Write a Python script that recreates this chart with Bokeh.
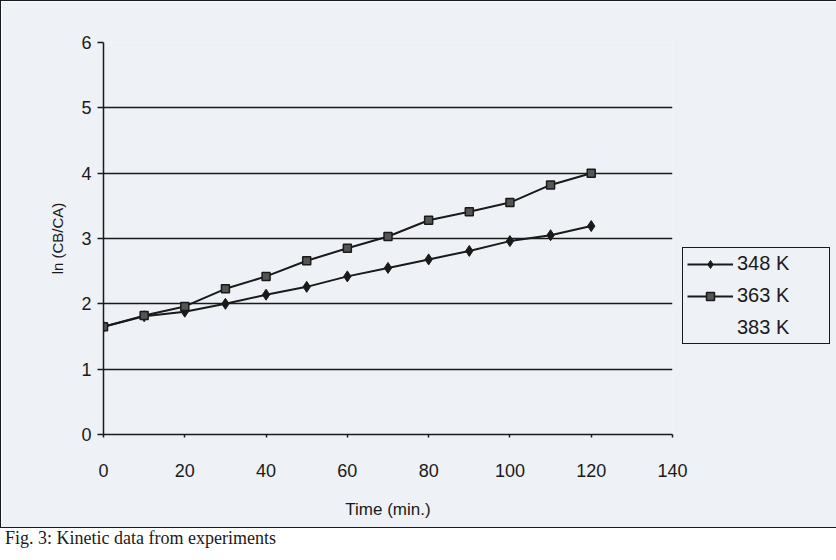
from bokeh.plotting import figure
from bokeh.models import Legend, LegendItem, Div, FixedTicker, Range1d
from bokeh.layouts import column
from bokeh.embed import file_html
from bokeh.resources import INLINE

# ---- data ----
time_min = [0, 10, 20, 30, 40, 50, 60, 70, 80, 90, 100, 110, 120]
ln_348K = [1.65, 1.81, 1.88, 2.00, 2.14, 2.26, 2.42, 2.55, 2.68, 2.81, 2.96, 3.05, 3.19]
ln_363K = [1.65, 1.82, 1.96, 2.23, 2.42, 2.66, 2.85, 3.03, 3.28, 3.41, 3.55, 3.82, 4.00]
series_names = ["348 K", "363 K", "383 K"]
x_ticks = [0, 20, 40, 60, 80, 100, 120, 140]
y_ticks = [0, 1, 2, 3, 4, 5, 6]
caption_text = "Fig. 3: Kinetic data from experiments"

BG = "#eef1f6"
INK = "#1a1a1a"
FONT = "Liberation Sans"

p = figure(frame_width=567, frame_height=390, output_backend="svg", toolbar_location=None,
           x_range=Range1d(0, 140), y_range=Range1d(0, 6),
           min_border_left=102, min_border_top=41, min_border_bottom=95,
           min_border_right=148, background_fill_color=BG,
           border_fill_color=BG, outline_line_color=None)
p.styles = {"border": "1.5px solid #1a1a1a"}

# axes
p.xaxis.ticker = FixedTicker(ticks=x_ticks)
p.yaxis.ticker = FixedTicker(ticks=y_ticks)
for ax in (p.xaxis[0], p.yaxis[0]):
    ax.axis_line_color = INK
    ax.axis_line_width = 1.5
    ax.major_tick_line_color = INK
    ax.major_tick_line_width = 1.5
    ax.minor_tick_line_color = None
    ax.major_tick_in = 0
    ax.major_label_text_font = FONT
    ax.major_label_text_font_size = "18px"
    ax.major_label_text_color = INK
    ax.axis_label_text_font = FONT
    ax.axis_label_text_color = INK
    ax.axis_label_text_font_style = "normal"
p.xaxis.major_tick_out = 3
p.yaxis.major_tick_out = 6
p.xaxis.major_label_standoff = 26
p.yaxis.major_label_standoff = 6
p.xaxis.axis_label = "Time (min.)"
p.xaxis.axis_label_text_font_size = "17px"
p.xaxis.axis_label_standoff = 20
p.yaxis.axis_label = "ln (CB/CA)"
p.yaxis.axis_label_text_font_size = "15px"
p.yaxis.axis_label_standoff = 12

# grid
p.xgrid.grid_line_color = None
p.ygrid.ticker = FixedTicker(ticks=[0, 1, 2, 3, 4, 5])
p.ygrid.grid_line_color = INK
p.ygrid.grid_line_width = 1.5

# series
l1 = p.line(time_min, ln_348K, line_color=INK, line_width=2)
m1 = p.scatter(time_min, ln_348K, marker="diamond", size=11, fill_color=INK, line_color=INK)
l2 = p.line(time_min, ln_363K, line_color=INK, line_width=2)
m2 = p.scatter(time_min, ln_363K, marker="square", size=8, fill_color="#555555", line_color=INK, line_width=1.5)
l3 = p.line([], [], line_color=INK, line_alpha=0)

legend = Legend(items=[LegendItem(label=series_names[0], renderers=[l1, m1]),
                       LegendItem(label=series_names[1], renderers=[l2, m2]),
                       LegendItem(label=series_names[2], renderers=[l3])],
                location=(10, 90), orientation="vertical")
legend.border_line_color = INK
legend.border_line_width = 1.5
legend.border_line_alpha = 1
legend.background_fill_color = BG
legend.background_fill_alpha = 1
legend.label_text_font = FONT
legend.label_text_font_size = "20px"
legend.label_text_color = INK
legend.glyph_width = 46
legend.glyph_height = 20
legend.label_width = 88
legend.spacing = 9
legend.padding = 4
legend.margin = 0
legend.label_standoff = 4
p.add_layout(legend, "right")

caption = Div(text=caption_text, width=820, height=16,
              styles={"font-family": "Liberation Serif", "font-size": "18px",
                      "color": "#1a1a1a", "line-height": "16px", "margin-top": "2px"})

layout = column(p, caption, spacing=0)
with open("out.html", "w") as f:
    f.write(file_html(layout, INLINE))
